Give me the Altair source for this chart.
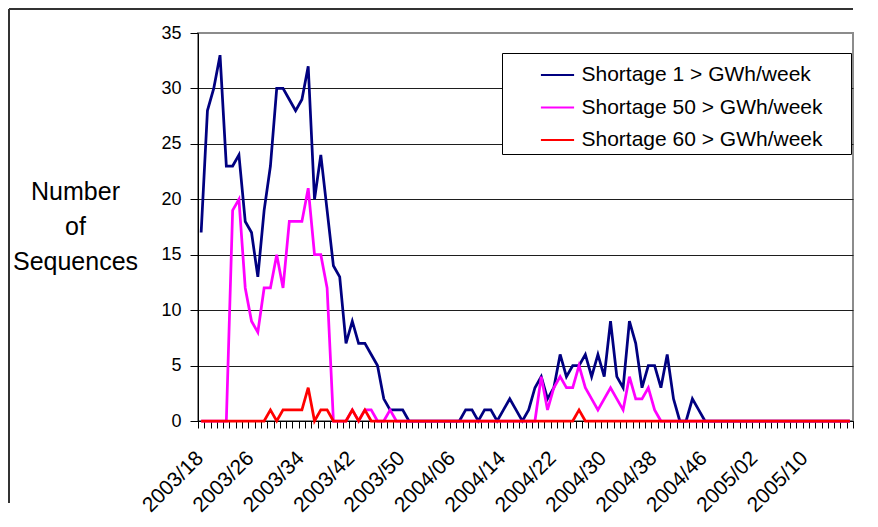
import altair as alt
import pandas as pd

# ---- categories (week labels, 2003/18 .. 2005/17) ----
weeks = ([f"2003/{w:02d}" for w in range(18, 53)]
         + [f"2004/{w:02d}" for w in range(1, 53)]
         + [f"2005/{w:02d}" for w in range(1, 18)])

tick_labels = ["2003/18", "2003/26", "2003/34", "2003/42", "2003/50",
               "2004/06", "2004/14", "2004/22", "2004/30", "2004/38",
               "2004/46", "2005/02", "2005/10"]

series_names = ["Shortage 1 > GWh/week", "Shortage 50 > GWh/week", "Shortage 60 > GWh/week"]
series_colors = ["#000080", "#FF00FF", "#FF0000"]

shortage_1 = [17, 28, 30, 33, 23, 23, 24, 18, 17, 13, 19, 23, 30, 30, 29, 28, 29, 32, 20, 24,
              19, 14, 13, 7, 9, 7, 7, 6, 5, 2, 1, 1, 1, 0, 0, 0, 0, 0, 0, 0,
              0, 0, 1, 1, 0, 1, 1, 0, 1, 2, 1, 0, 1, 3, 4, 2, 3, 6, 4, 5,
              5, 6, 4, 6, 4, 9, 4, 3, 9, 7, 3, 5, 5, 3, 6, 2, 0, 0, 2, 1,
              0, 0, 0, 0, 0, 0, 0, 0, 0, 0, 0, 0, 0, 0, 0, 0, 0, 0, 0, 0,
              0, 0, 0, 0]
shortage_50 = [0, 0, 0, 0, 0, 19, 20, 12, 9, 8, 12, 12, 15, 12, 18, 18, 18, 21, 15, 15,
               12, 0, 0, 0, 1, 0, 1, 1, 0, 0, 1, 0, 0, 0, 0, 0, 0, 0, 0, 0,
               0, 0, 0, 0, 0, 0, 0, 0, 0, 0, 0, 0, 0, 0, 4, 1, 3, 4, 3, 3,
               5, 3, 2, 1, 2, 3, 2, 1, 4, 2, 2, 3, 1, 0, 0, 0, 0, 0, 0, 0,
               0, 0, 0, 0, 0, 0, 0, 0, 0, 0, 0, 0, 0, 0, 0, 0, 0, 0, 0, 0,
               0, 0, 0, 0]
shortage_60 = [0, 0, 0, 0, 0, 0, 0, 0, 0, 0, 0, 1, 0, 1, 1, 1, 1, 3, 0, 1,
               1, 0, 0, 0, 1, 0, 1, 0, 0, 0, 0, 0, 0, 0, 0, 0, 0, 0, 0, 0,
               0, 0, 0, 0, 0, 0, 0, 0, 0, 0, 0, 0, 0, 0, 0, 0, 0, 0, 0, 0,
               1, 0, 0, 0, 0, 0, 0, 0, 0, 0, 0, 0, 0, 0, 0, 0, 0, 0, 0, 0,
               0, 0, 0, 0, 0, 0, 0, 0, 0, 0, 0, 0, 0, 0, 0, 0, 0, 0, 0, 0,
               0, 0, 0, 0]

rows = []
for name, vals in zip(series_names, [shortage_1, shortage_50, shortage_60]):
    for i, (wk, v) in enumerate(zip(weeks, vals)):
        rows.append({"idx": i, "week": wk, "series": name, "value": v})
df = pd.DataFrame(rows)

W, H = 655, 388
n = len(weeks)
FONT = "Liberation Sans"

label_js = "[" + ",".join(f"'{t}'" for t in tick_labels) + "]"
label_expr = (f"(datum.value + 0.5) % 8 == 0 && datum.value < {len(tick_labels) * 8 - 1} "
              f"? {label_js}[(datum.value + 0.5) / 8] : ''")

x_enc = alt.X(
    "idx:Q",
    scale=alt.Scale(domain=[-0.5, n - 0.5], nice=False, zero=False),
    axis=alt.Axis(values=[i - 0.5 for i in range(n + 1)], labelExpr=label_expr,
                  labelOffset=-6, labelAngle=-45, labelOverlap=False,
                  labelFlush=False, labelFontSize=21, labelPadding=19,
                  tickSize=7, tickColor="black", domainColor="black",
                  grid=False, title=None),
)
y_enc = alt.Y(
    "value:Q",
    scale=alt.Scale(domain=[0, 35], nice=False),
    axis=alt.Axis(values=list(range(0, 36, 5)), tickSize=8, tickColor="black",
                  domainColor="black", labelFontSize=18, labelPadding=9,
                  gridColor={"condition": {"test": "datum.value === 35", "value": "#8c8c8c"},
                             "value": "#1e1e1e"},
                  gridWidth=1,
                  title=["Number", "of", "Sequences"], titleAngle=0, titleFontSize=25,
                  titleFontWeight="normal", titleAlign="center", titleBaseline="middle",
                  titleX=-123, titleY=158, titleLineHeight=35),
)
color_enc = alt.Color(
    "series:N",
    scale=alt.Scale(domain=series_names, range=series_colors),
    legend=alt.Legend(title="\u00a0", titleOrient="right", titlePadding=24,
                      orient="none", legendX=304, legendY=20, direction="vertical",
                      symbolType="stroke", symbolSize=1100, symbolStrokeWidth=2,
                      symbolOffset=33.5, labelOffset=6, labelFontSize=21, labelLimit=500,
                      padding=4, rowPadding=4.5, strokeColor="black", fillColor="white",
                      cornerRadius=0),
)

frame_left = alt.Chart(df).mark_rule(color="#333333", strokeWidth=2).encode(
    x=alt.value(-189), y=alt.value(-24), y2=alt.value(470))
frame_top = alt.Chart(df).mark_rule(color="#333333", strokeWidth=2).encode(
    x=alt.value(-189), x2=alt.value(W), y=alt.value(-24))

layers = [frame_left, frame_top]
for name in series_names:
    layers.append(
        alt.Chart(df).transform_filter(alt.datum.series == name)
        .mark_line(strokeWidth=2.75)
        .encode(x=x_enc, y=y_enc, color=color_enc)
    )

chart = (
    alt.layer(*layers)
    .properties(width=W, height=H, padding=0)
    .configure(font=FONT)
    .configure_view(stroke="#8c8c8c", strokeWidth=2)
)

chart.save("out.html", embed_options={"renderer": "svg", "actions": False})
